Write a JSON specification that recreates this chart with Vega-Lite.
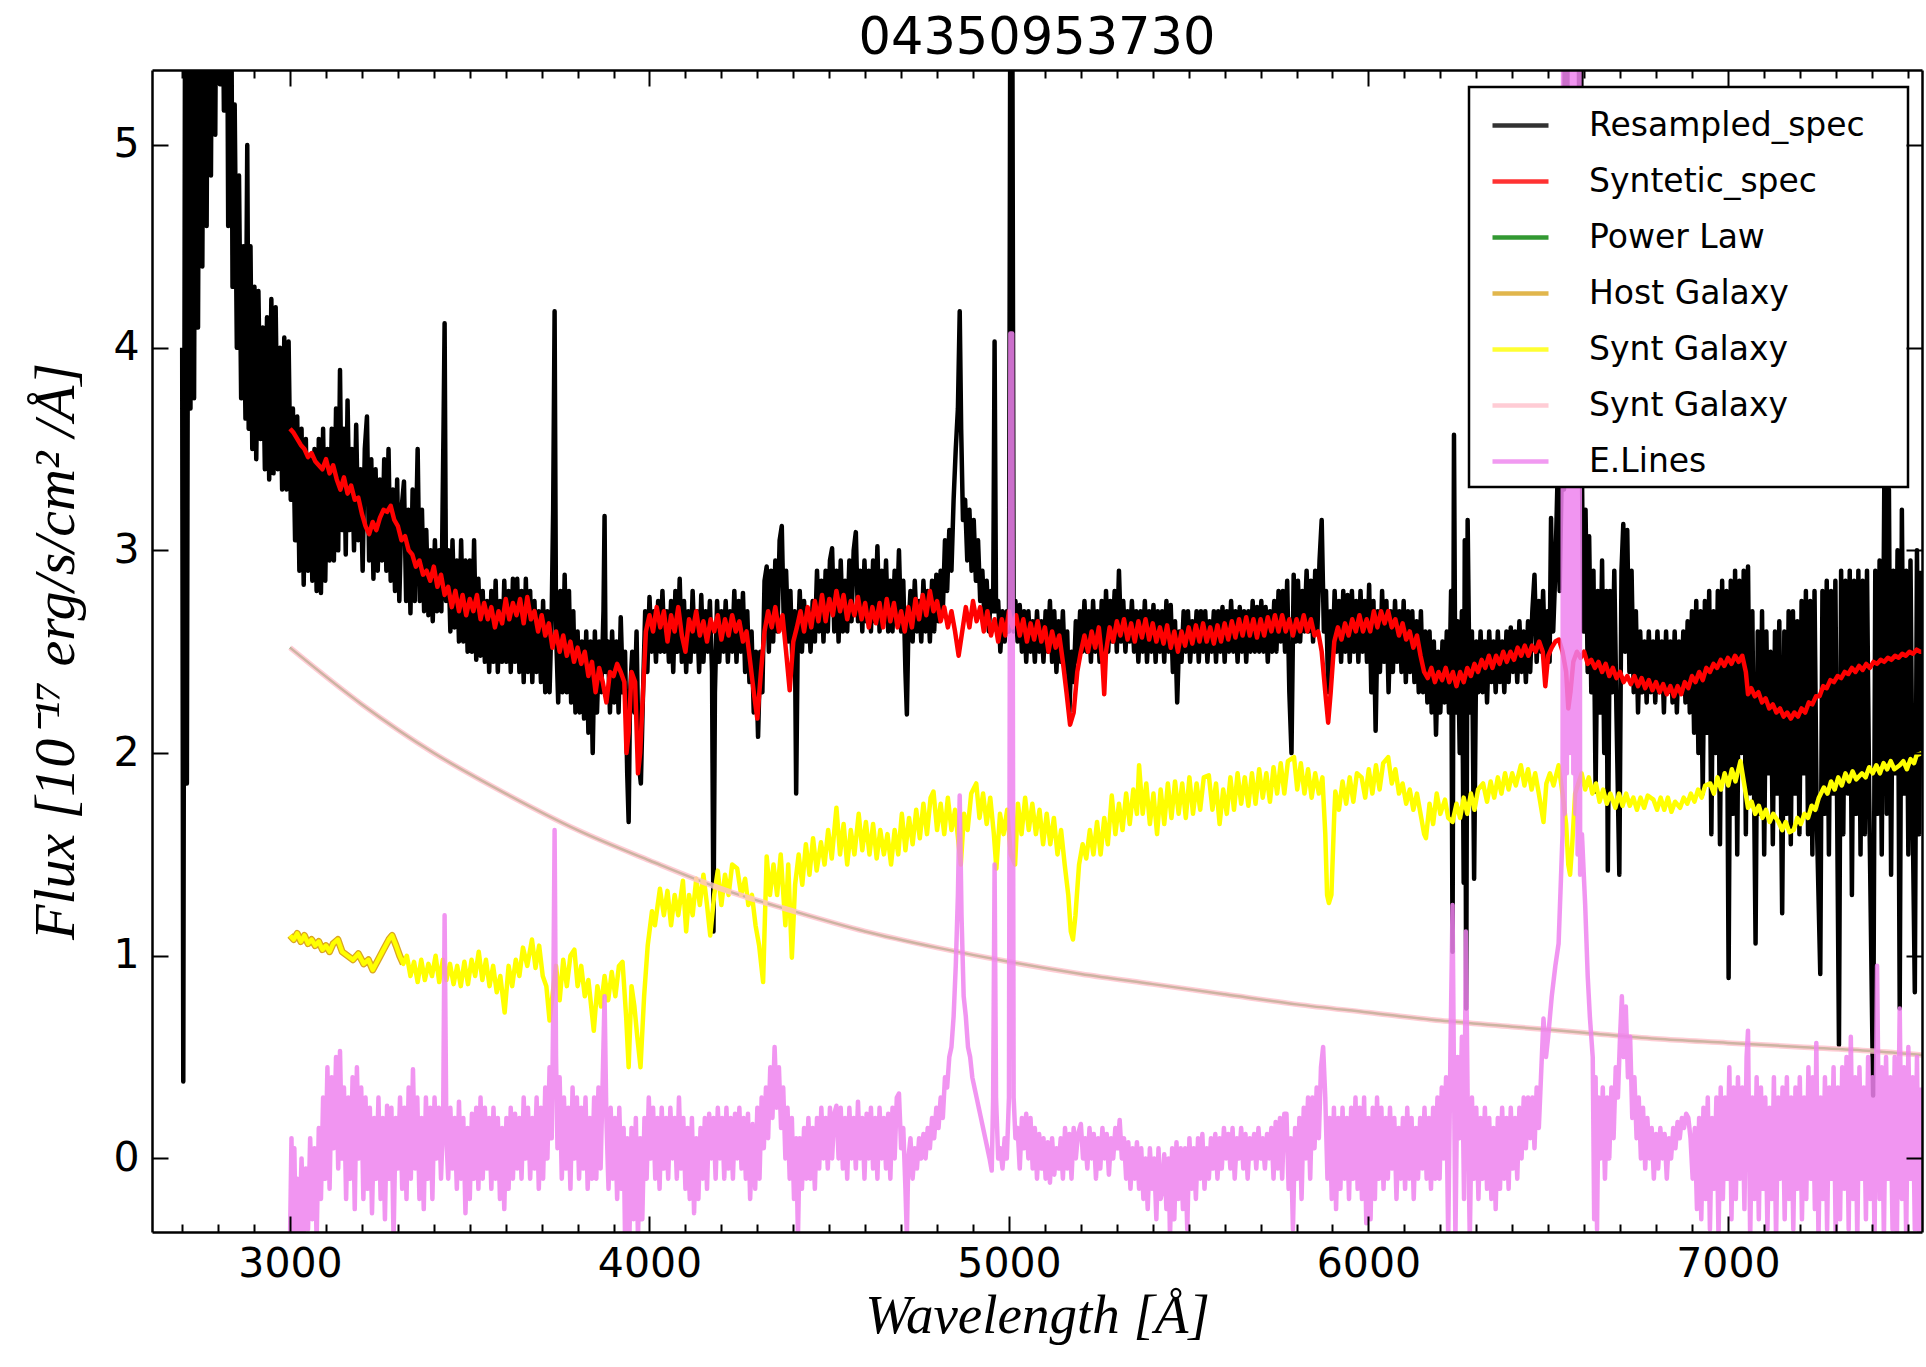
{
"$schema":"https://vega.github.io/schema/vega-lite/v6.json",
"width":1770,"height":1162,
"autosize":{"type":"none"},
"padding":{"left":152,"top":70,"right":4,"bottom":135},
"background":"white",
"title":{"text":"04350953730","font":"DejaVu Sans","fontSize":51,"fontWeight":"normal","color":"black","baseline":"alphabetic","offset":20,"dy":56,"anchor":"middle","frame":"group"},
"config":{"view":{"stroke":null},
"axis":{"grid":false,"tickColor":"black","tickWidth":2,"domainColor":"black","domainWidth":2.5,"labelColor":"black","labelFont":"DejaVu Sans","labelFontSize":41,"titleColor":"black","titleFont":"Liberation Serif","titleFontStyle":"italic","titleFontWeight":"normal","titleFontSize":55},
"legend":{"strokeWidth":2.5}},
"datasets":{
"spec":[{"w":2700,"f":4.0},{"w":2703,"f":0.38},{"w":2708,"f":5.8},{"w":2713,"f":1.85},{"w":2718,"f":6.2},{"w":2723,"f":3.7},{"w":2728,"f":6.5},{"w":2733,"f":3.75},{"w":2738,"f":6.5},{"w":2744,"f":4.1},{"w":2750,"f":6.8},{"w":2756,"f":4.4},{"w":2762,"f":6.8},{"w":2768,"f":4.6},{"w":2774,"f":7.0},{"w":2780,"f":4.85},{"w":2786,"f":7.0},{"w":2792,"f":5.05},{"w":2798,"f":7.0},{"w":2805,"f":5.3},{"w":2811,"f":6.2},{"w":2816,"f":5.17},{"w":2822,"f":7.0},{"w":2828,"f":4.6},{"w":2834,"f":7.0},{"w":2840,"f":4.3},{"w":2846,"f":5.2},{"w":2852,"f":4.0},{"w":2858,"f":4.85},{"w":2864,"f":3.75},{"w":2870,"f":4.5},{"w":2876,"f":3.65},{"w":2881,"f":5.0},{"w":2885,"f":3.6},{"w":2890,"f":4.5},{"w":2895,"f":3.5},{"w":2901,"f":4.3},{"w":2906,"f":3.45},{"w":2912,"f":4.28},{"w":2918,"f":3.55},{"w":2924,"f":4.1},{"w":2930,"f":3.4},{"w":2936,"f":4.15},{"w":2942,"f":3.35},{"w":2948,"f":4.24},{"w":2954,"f":3.38},{"w":2960,"f":4.2},{"w":2966,"f":3.4},{"w":2972,"f":4.0},{"w":2978,"f":3.3},{"w":2984,"f":4.05},{"w":2990,"f":3.3},{"w":2996,"f":4.03},{"w":3002,"f":3.25},{"w":3008,"f":3.7},{"w":3014,"f":3.05},{"w":3020,"f":3.66},{"w":3026,"f":2.9},{"w":3032,"f":3.6},{"w":3038,"f":2.83},{"w":3044,"f":3.55},{"w":3050,"f":2.9},{"w":3056,"f":3.45},{"w":3062,"f":2.85},{"w":3068,"f":3.5},{"w":3074,"f":2.8},{"w":3080,"f":3.55},{"w":3086,"f":2.79},{"w":3092,"f":3.6},{"w":3098,"f":2.85},{"w":3104,"f":3.5},{"w":3110,"f":2.95},{"w":3116,"f":3.6},{"w":3122,"f":2.95},{"w":3128,"f":3.7},{"w":3134,"f":3.0},{"w":3139,"f":3.89},{"w":3144,"f":3.1},{"w":3150,"f":3.6},{"w":3155,"f":2.98},{"w":3160,"f":3.74},{"w":3166,"f":3.1},{"w":3172,"f":3.5},{"w":3178,"f":3.0},{"w":3184,"f":3.62},{"w":3190,"f":3.05},{"w":3196,"f":3.4},{"w":3202,"f":2.9},{"w":3208,"f":3.5},{"w":3214,"f":3.66},{"w":3220,"f":2.95},{"w":3226,"f":3.45},{"w":3232,"f":2.86},{"w":3238,"f":3.4},{"w":3244,"f":2.9},{"w":3250,"f":3.35},{"w":3256,"f":2.95},{"w":3262,"f":3.45},{"w":3268,"f":2.9},{"w":3274,"f":3.5},{"w":3280,"f":2.85},{"w":3286,"f":3.3},{"w":3292,"f":2.8},{"w":3298,"f":3.35},{"w":3304,"f":2.75},{"w":3310,"f":3.2},{"w":3317,"f":3.34},{"w":3323,"f":2.75},{"w":3329,"f":3.2},{"w":3335,"f":2.69},{"w":3341,"f":3.3},{"w":3347,"f":2.75},{"w":3355,"f":3.5},{"w":3361,"f":2.75},{"w":3367,"f":3.2},{"w":3373,"f":2.7},{"w":3379,"f":3.1},{"w":3385,"f":2.68},{"w":3391,"f":3.0},{"w":3397,"f":2.65},{"w":3403,"f":3.05},{"w":3409,"f":2.7},{"w":3415,"f":3.0},{"w":3421,"f":2.7},{"w":3427,"f":3.6},{"w":3430,"f":4.12},{"w":3434,"f":2.75},{"w":3440,"f":3.0},{"w":3446,"f":2.6},{"w":3452,"f":3.05},{"w":3458,"f":2.62},{"w":3464,"f":2.95},{"w":3470,"f":2.55},{"w":3476,"f":3.05},{"w":3482,"f":2.55},{"w":3488,"f":2.95},{"w":3494,"f":2.5},{"w":3500,"f":2.95},{"w":3506,"f":2.5},{"w":3512,"f":3.05},{"w":3518,"f":2.46},{"w":3524,"f":2.86},{"w":3530,"f":2.48},{"w":3536,"f":2.8},{"w":3542,"f":2.45},{"w":3548,"f":2.75},{"w":3554,"f":2.4},{"w":3560,"f":2.8},{"w":3566,"f":2.45},{"w":3572,"f":2.85},{"w":3578,"f":2.4},{"w":3584,"f":2.75},{"w":3590,"f":2.45},{"w":3596,"f":2.85},{"w":3602,"f":2.45},{"w":3608,"f":2.8},{"w":3614,"f":2.4},{"w":3620,"f":2.86},{"w":3626,"f":2.45},{"w":3632,"f":2.86},{"w":3638,"f":2.4},{"w":3644,"f":2.8},{"w":3650,"f":2.35},{"w":3656,"f":2.86},{"w":3662,"f":2.4},{"w":3668,"f":2.8},{"w":3674,"f":2.35},{"w":3680,"f":2.75},{"w":3686,"f":2.4},{"w":3692,"f":2.7},{"w":3698,"f":2.35},{"w":3704,"f":2.75},{"w":3710,"f":2.3},{"w":3716,"f":2.7},{"w":3722,"f":2.3},{"w":3728,"f":2.7},{"w":3732,"f":3.2},{"w":3736,"f":4.18},{"w":3740,"f":2.6},{"w":3746,"f":2.25},{"w":3752,"f":2.8},{"w":3758,"f":2.3},{"w":3764,"f":2.88},{"w":3770,"f":2.3},{"w":3776,"f":2.8},{"w":3782,"f":2.25},{"w":3788,"f":2.7},{"w":3794,"f":2.2},{"w":3800,"f":2.6},{"w":3806,"f":2.2},{"w":3812,"f":2.55},{"w":3818,"f":2.17},{"w":3824,"f":2.6},{"w":3830,"f":2.1},{"w":3836,"f":2.55},{"w":3842,"f":2.0},{"w":3848,"f":2.6},{"w":3854,"f":2.2},{"w":3860,"f":2.55},{"w":3866,"f":2.3},{"w":3872,"f":2.7},{"w":3875,"f":3.17},{"w":3878,"f":2.4},{"w":3884,"f":2.55},{"w":3890,"f":2.2},{"w":3896,"f":2.6},{"w":3902,"f":2.25},{"w":3908,"f":2.55},{"w":3914,"f":2.2},{"w":3920,"f":2.67},{"w":3926,"f":2.3},{"w":3932,"f":2.5},{"w":3938,"f":1.9},{"w":3942,"f":1.66},{"w":3946,"f":2.3},{"w":3952,"f":2.5},{"w":3958,"f":2.2},{"w":3964,"f":2.6},{"w":3970,"f":1.95},{"w":3976,"f":1.85},{"w":3982,"f":2.3},{"w":3988,"f":2.7},{"w":3994,"f":2.4},{"w":4000,"f":2.77},{"w":4006,"f":2.5},{"w":4012,"f":2.7},{"w":4018,"f":2.45},{"w":4024,"f":2.75},{"w":4030,"f":2.5},{"w":4036,"f":2.8},{"w":4042,"f":2.5},{"w":4048,"f":2.7},{"w":4054,"f":2.45},{"w":4060,"f":2.75},{"w":4066,"f":2.4},{"w":4072,"f":2.8},{"w":4078,"f":2.5},{"w":4084,"f":2.86},{"w":4090,"f":2.45},{"w":4096,"f":2.75},{"w":4102,"f":2.4},{"w":4108,"f":2.7},{"w":4114,"f":2.45},{"w":4120,"f":2.8},{"w":4126,"f":2.5},{"w":4132,"f":2.7},{"w":4138,"f":2.4},{"w":4144,"f":2.78},{"w":4150,"f":2.45},{"w":4156,"f":2.7},{"w":4162,"f":2.5},{"w":4168,"f":2.75},{"w":4174,"f":2.4},{"w":4178,"f":1.12},{"w":4182,"f":2.3},{"w":4188,"f":2.75},{"w":4194,"f":2.45},{"w":4200,"f":2.7},{"w":4206,"f":2.5},{"w":4212,"f":2.75},{"w":4218,"f":2.45},{"w":4224,"f":2.7},{"w":4230,"f":2.5},{"w":4236,"f":2.8},{"w":4242,"f":2.45},{"w":4248,"f":2.75},{"w":4254,"f":2.5},{"w":4260,"f":2.79},{"w":4266,"f":2.4},{"w":4272,"f":2.7},{"w":4278,"f":2.35},{"w":4284,"f":2.6},{"w":4290,"f":2.2},{"w":4296,"f":2.5},{"w":4302,"f":2.08},{"w":4308,"f":2.5},{"w":4314,"f":2.3},{"w":4320,"f":2.85},{"w":4326,"f":2.92},{"w":4332,"f":2.5},{"w":4338,"f":2.9},{"w":4344,"f":2.55},{"w":4350,"f":2.95},{"w":4356,"f":2.6},{"w":4362,"f":3.05},{"w":4368,"f":3.12},{"w":4374,"f":2.6},{"w":4380,"f":2.9},{"w":4386,"f":2.55},{"w":4392,"f":2.8},{"w":4398,"f":2.4},{"w":4404,"f":2.7},{"w":4408,"f":1.8},{"w":4412,"f":2.5},{"w":4418,"f":2.8},{"w":4424,"f":2.5},{"w":4430,"f":2.75},{"w":4436,"f":2.55},{"w":4442,"f":2.7},{"w":4448,"f":2.5},{"w":4454,"f":2.75},{"w":4460,"f":2.55},{"w":4466,"f":2.9},{"w":4472,"f":2.6},{"w":4478,"f":2.85},{"w":4484,"f":2.55},{"w":4490,"f":2.9},{"w":4496,"f":2.6},{"w":4502,"f":2.95},{"w":4508,"f":3.01},{"w":4514,"f":2.6},{"w":4520,"f":2.9},{"w":4526,"f":2.55},{"w":4532,"f":2.95},{"w":4538,"f":2.6},{"w":4544,"f":2.85},{"w":4550,"f":2.6},{"w":4556,"f":2.95},{"w":4562,"f":2.65},{"w":4568,"f":3.0},{"w":4574,"f":3.09},{"w":4580,"f":2.65},{"w":4586,"f":2.9},{"w":4592,"f":2.6},{"w":4598,"f":2.95},{"w":4604,"f":2.65},{"w":4610,"f":2.9},{"w":4616,"f":2.6},{"w":4622,"f":2.95},{"w":4628,"f":2.65},{"w":4634,"f":3.02},{"w":4640,"f":2.6},{"w":4646,"f":2.9},{"w":4652,"f":2.65},{"w":4658,"f":2.95},{"w":4664,"f":2.6},{"w":4670,"f":2.85},{"w":4676,"f":2.6},{"w":4682,"f":2.9},{"w":4688,"f":2.65},{"w":4694,"f":3.0},{"w":4700,"f":2.6},{"w":4706,"f":2.85},{"w":4712,"f":2.4},{"w":4716,"f":2.19},{"w":4720,"f":2.6},{"w":4726,"f":2.8},{"w":4732,"f":2.55},{"w":4738,"f":2.85},{"w":4744,"f":2.6},{"w":4750,"f":2.75},{"w":4756,"f":2.55},{"w":4762,"f":2.85},{"w":4768,"f":2.6},{"w":4774,"f":2.8},{"w":4780,"f":2.55},{"w":4786,"f":2.85},{"w":4792,"f":2.6},{"w":4798,"f":2.88},{"w":4804,"f":2.65},{"w":4810,"f":2.9},{"w":4816,"f":2.7},{"w":4822,"f":3.05},{"w":4828,"f":2.8},{"w":4834,"f":3.1},{"w":4840,"f":2.9},{"w":4846,"f":3.25},{"w":4852,"f":3.5},{"w":4858,"f":3.7},{"w":4863,"f":4.18},{"w":4867,"f":3.6},{"w":4872,"f":3.15},{"w":4878,"f":3.25},{"w":4884,"f":2.95},{"w":4890,"f":3.2},{"w":4896,"f":2.9},{"w":4902,"f":3.15},{"w":4908,"f":2.85},{"w":4914,"f":3.05},{"w":4920,"f":2.75},{"w":4926,"f":2.9},{"w":4932,"f":2.65},{"w":4938,"f":2.85},{"w":4944,"f":2.6},{"w":4950,"f":2.8},{"w":4956,"f":2.7},{"w":4960,"f":4.03},{"w":4964,"f":2.7},{"w":4970,"f":2.75},{"w":4976,"f":2.5},{"w":4982,"f":2.7},{"w":4988,"f":2.55},{"w":4994,"f":2.7},{"w":5000,"f":2.6},{"w":5004,"f":6.0},{"w":5009,"f":6.0},{"w":5013,"f":2.6},{"w":5018,"f":2.75},{"w":5024,"f":2.55},{"w":5030,"f":2.73},{"w":5036,"f":2.5},{"w":5042,"f":2.7},{"w":5048,"f":2.45},{"w":5054,"f":2.7},{"w":5060,"f":2.5},{"w":5066,"f":2.65},{"w":5072,"f":2.45},{"w":5078,"f":2.7},{"w":5084,"f":2.5},{"w":5090,"f":2.65},{"w":5096,"f":2.45},{"w":5102,"f":2.7},{"w":5108,"f":2.5},{"w":5114,"f":2.75},{"w":5120,"f":2.45},{"w":5126,"f":2.7},{"w":5132,"f":2.4},{"w":5138,"f":2.65},{"w":5144,"f":2.45},{"w":5150,"f":2.7},{"w":5156,"f":2.4},{"w":5162,"f":2.6},{"w":5168,"f":2.2},{"w":5174,"f":2.5},{"w":5180,"f":2.35},{"w":5186,"f":2.65},{"w":5192,"f":2.45},{"w":5198,"f":2.7},{"w":5204,"f":2.5},{"w":5210,"f":2.75},{"w":5216,"f":2.5},{"w":5222,"f":2.7},{"w":5228,"f":2.45},{"w":5234,"f":2.75},{"w":5240,"f":2.5},{"w":5246,"f":2.7},{"w":5252,"f":2.45},{"w":5258,"f":2.75},{"w":5264,"f":2.4},{"w":5270,"f":2.8},{"w":5276,"f":2.5},{"w":5282,"f":2.75},{"w":5288,"f":2.55},{"w":5294,"f":2.8},{"w":5300,"f":2.5},{"w":5306,"f":2.9},{"w":5312,"f":2.55},{"w":5318,"f":2.75},{"w":5324,"f":2.5},{"w":5330,"f":2.7},{"w":5336,"f":2.55},{"w":5342,"f":2.75},{"w":5348,"f":2.5},{"w":5354,"f":2.7},{"w":5360,"f":2.45},{"w":5366,"f":2.7},{"w":5372,"f":2.5},{"w":5378,"f":2.75},{"w":5384,"f":2.45},{"w":5390,"f":2.7},{"w":5396,"f":2.5},{"w":5402,"f":2.73},{"w":5408,"f":2.45},{"w":5414,"f":2.7},{"w":5420,"f":2.5},{"w":5426,"f":2.7},{"w":5432,"f":2.45},{"w":5438,"f":2.75},{"w":5444,"f":2.5},{"w":5450,"f":2.73},{"w":5456,"f":2.4},{"w":5462,"f":2.65},{"w":5468,"f":2.25},{"w":5474,"f":2.6},{"w":5480,"f":2.45},{"w":5486,"f":2.7},{"w":5492,"f":2.5},{"w":5498,"f":2.7},{"w":5504,"f":2.45},{"w":5510,"f":2.65},{"w":5516,"f":2.5},{"w":5522,"f":2.7},{"w":5528,"f":2.45},{"w":5534,"f":2.7},{"w":5540,"f":2.5},{"w":5546,"f":2.7},{"w":5552,"f":2.45},{"w":5558,"f":2.65},{"w":5564,"f":2.5},{"w":5570,"f":2.7},{"w":5576,"f":2.45},{"w":5582,"f":2.7},{"w":5588,"f":2.5},{"w":5594,"f":2.72},{"w":5600,"f":2.45},{"w":5606,"f":2.7},{"w":5612,"f":2.5},{"w":5618,"f":2.75},{"w":5624,"f":2.5},{"w":5630,"f":2.7},{"w":5636,"f":2.45},{"w":5642,"f":2.72},{"w":5648,"f":2.5},{"w":5654,"f":2.7},{"w":5660,"f":2.45},{"w":5666,"f":2.7},{"w":5672,"f":2.5},{"w":5678,"f":2.75},{"w":5684,"f":2.5},{"w":5690,"f":2.72},{"w":5696,"f":2.5},{"w":5702,"f":2.75},{"w":5708,"f":2.5},{"w":5714,"f":2.72},{"w":5720,"f":2.45},{"w":5726,"f":2.7},{"w":5732,"f":2.5},{"w":5738,"f":2.75},{"w":5744,"f":2.5},{"w":5750,"f":2.8},{"w":5756,"f":2.55},{"w":5762,"f":2.8},{"w":5768,"f":2.5},{"w":5774,"f":2.85},{"w":5780,"f":2.3},{"w":5786,"f":2.0},{"w":5792,"f":2.88},{"w":5798,"f":2.55},{"w":5804,"f":2.85},{"w":5810,"f":2.55},{"w":5816,"f":2.8},{"w":5822,"f":2.6},{"w":5828,"f":2.9},{"w":5834,"f":2.6},{"w":5840,"f":2.85},{"w":5846,"f":2.55},{"w":5852,"f":2.9},{"w":5858,"f":2.6},{"w":5864,"f":2.95},{"w":5870,"f":3.15},{"w":5876,"f":2.6},{"w":5882,"f":2.8},{"w":5888,"f":2.3},{"w":5894,"f":2.7},{"w":5900,"f":2.45},{"w":5906,"f":2.8},{"w":5912,"f":2.5},{"w":5918,"f":2.75},{"w":5924,"f":2.45},{"w":5930,"f":2.8},{"w":5936,"f":2.5},{"w":5942,"f":2.78},{"w":5948,"f":2.45},{"w":5954,"f":2.8},{"w":5960,"f":2.5},{"w":5966,"f":2.75},{"w":5972,"f":2.45},{"w":5978,"f":2.8},{"w":5984,"f":2.5},{"w":5990,"f":2.75},{"w":5996,"f":2.45},{"w":6002,"f":2.83},{"w":6008,"f":2.3},{"w":6014,"f":2.75},{"w":6020,"f":2.11},{"w":6026,"f":2.7},{"w":6032,"f":2.4},{"w":6038,"f":2.8},{"w":6044,"f":2.45},{"w":6050,"f":2.75},{"w":6056,"f":2.3},{"w":6062,"f":2.7},{"w":6068,"f":2.4},{"w":6074,"f":2.75},{"w":6080,"f":2.45},{"w":6086,"f":2.7},{"w":6092,"f":2.4},{"w":6098,"f":2.75},{"w":6104,"f":2.35},{"w":6110,"f":2.7},{"w":6116,"f":2.4},{"w":6122,"f":2.7},{"w":6128,"f":2.35},{"w":6134,"f":2.65},{"w":6140,"f":2.3},{"w":6146,"f":2.7},{"w":6152,"f":2.3},{"w":6158,"f":2.6},{"w":6164,"f":2.25},{"w":6170,"f":2.6},{"w":6176,"f":2.2},{"w":6182,"f":2.55},{"w":6188,"f":2.09},{"w":6194,"f":2.5},{"w":6200,"f":2.2},{"w":6206,"f":2.55},{"w":6212,"f":2.25},{"w":6218,"f":2.6},{"w":6224,"f":2.2},{"w":6230,"f":2.8},{"w":6234,"f":1.02},{"w":6238,"f":3.57},{"w":6242,"f":2.2},{"w":6248,"f":2.65},{"w":6254,"f":2.0},{"w":6260,"f":2.7},{"w":6265,"f":1.36},{"w":6268,"f":3.05},{"w":6272,"f":0.74},{"w":6276,"f":3.15},{"w":6282,"f":2.2},{"w":6288,"f":2.6},{"w":6294,"f":1.38},{"w":6300,"f":2.55},{"w":6306,"f":2.3},{"w":6312,"f":2.6},{"w":6318,"f":2.3},{"w":6324,"f":2.55},{"w":6330,"f":2.25},{"w":6336,"f":2.6},{"w":6342,"f":2.35},{"w":6348,"f":2.55},{"w":6354,"f":2.3},{"w":6360,"f":2.6},{"w":6366,"f":2.35},{"w":6372,"f":2.55},{"w":6378,"f":2.3},{"w":6384,"f":2.6},{"w":6390,"f":2.35},{"w":6396,"f":2.62},{"w":6402,"f":2.4},{"w":6408,"f":2.6},{"w":6414,"f":2.35},{"w":6420,"f":2.65},{"w":6426,"f":2.4},{"w":6432,"f":2.6},{"w":6438,"f":2.35},{"w":6444,"f":2.65},{"w":6450,"f":2.4},{"w":6456,"f":2.7},{"w":6462,"f":2.88},{"w":6468,"f":2.45},{"w":6474,"f":2.75},{"w":6480,"f":2.5},{"w":6486,"f":2.8},{"w":6492,"f":2.4},{"w":6498,"f":2.7},{"w":6504,"f":2.45},{"w":6508,"f":3.16},{"w":6514,"f":2.6},{"w":6520,"f":2.9},{"w":6526,"f":3.35},{"w":6532,"f":2.8},{"w":6538,"f":3.4},{"w":6544,"f":3.3},{"w":6548,"f":8.0},{"w":6552,"f":3.6},{"w":6556,"f":8.0},{"w":6584,"f":8.0},{"w":6587,"f":3.5},{"w":6590,"f":8.0},{"w":6594,"f":3.4},{"w":6598,"f":2.6},{"w":6604,"f":3.2},{"w":6610,"f":2.4},{"w":6614,"f":3.07},{"w":6620,"f":2.3},{"w":6626,"f":2.9},{"w":6632,"f":1.81},{"w":6638,"f":2.8},{"w":6644,"f":2.2},{"w":6650,"f":2.95},{"w":6656,"f":2.0},{"w":6662,"f":2.8},{"w":6666,"f":1.42},{"w":6672,"f":2.8},{"w":6678,"f":2.3},{"w":6684,"f":2.9},{"w":6690,"f":2.2},{"w":6698,"f":1.4},{"w":6704,"f":2.9},{"w":6709,"f":3.13},{"w":6714,"f":2.5},{"w":6720,"f":3.1},{"w":6726,"f":2.4},{"w":6732,"f":2.9},{"w":6738,"f":2.3},{"w":6744,"f":2.7},{"w":6750,"f":2.2},{"w":6756,"f":2.6},{"w":6762,"f":2.3},{"w":6768,"f":2.55},{"w":6774,"f":2.25},{"w":6780,"f":2.6},{"w":6786,"f":2.3},{"w":6792,"f":2.55},{"w":6798,"f":2.25},{"w":6804,"f":2.6},{"w":6810,"f":2.3},{"w":6816,"f":2.55},{"w":6822,"f":2.2},{"w":6828,"f":2.6},{"w":6834,"f":2.3},{"w":6840,"f":2.55},{"w":6846,"f":2.25},{"w":6852,"f":2.6},{"w":6858,"f":2.2},{"w":6864,"f":2.55},{"w":6870,"f":2.3},{"w":6876,"f":2.6},{"w":6882,"f":2.25},{"w":6888,"f":2.65},{"w":6894,"f":2.2},{"w":6900,"f":2.7},{"w":6906,"f":2.1},{"w":6912,"f":2.75},{"w":6918,"f":2.0},{"w":6924,"f":2.7},{"w":6930,"f":1.8},{"w":6936,"f":2.75},{"w":6942,"f":2.1},{"w":6948,"f":2.8},{"w":6954,"f":1.6},{"w":6960,"f":2.7},{"w":6966,"f":2.0},{"w":6972,"f":2.8},{"w":6978,"f":1.55},{"w":6984,"f":2.85},{"w":6990,"f":1.9},{"w":6996,"f":2.8},{"w":7002,"f":0.89},{"w":7008,"f":2.85},{"w":7014,"f":1.7},{"w":7020,"f":2.9},{"w":7026,"f":1.5},{"w":7032,"f":2.85},{"w":7038,"f":2.0},{"w":7044,"f":2.9},{"w":7050,"f":1.6},{"w":7056,"f":2.92},{"w":7062,"f":1.8},{"w":7068,"f":2.7},{"w":7077,"f":1.06},{"w":7083,"f":2.6},{"w":7089,"f":1.7},{"w":7095,"f":2.7},{"w":7101,"f":1.5},{"w":7107,"f":2.6},{"w":7113,"f":1.9},{"w":7119,"f":2.5},{"w":7125,"f":1.55},{"w":7131,"f":2.6},{"w":7137,"f":1.8},{"w":7143,"f":2.65},{"w":7151,"f":1.21},{"w":7157,"f":2.6},{"w":7163,"f":1.7},{"w":7169,"f":2.7},{"w":7175,"f":1.55},{"w":7181,"f":2.7},{"w":7187,"f":1.8},{"w":7193,"f":2.65},{"w":7199,"f":1.6},{"w":7205,"f":2.75},{"w":7211,"f":1.9},{"w":7217,"f":2.8},{"w":7223,"f":1.6},{"w":7229,"f":2.75},{"w":7235,"f":1.5},{"w":7241,"f":2.8},{"w":7247,"f":1.7},{"w":7257,"f":0.91},{"w":7263,"f":2.8},{"w":7269,"f":1.7},{"w":7275,"f":2.85},{"w":7281,"f":1.5},{"w":7287,"f":2.8},{"w":7293,"f":1.8},{"w":7299,"f":2.85},{"w":7309,"f":0.56},{"w":7315,"f":2.9},{"w":7321,"f":1.6},{"w":7327,"f":2.85},{"w":7333,"f":1.8},{"w":7339,"f":2.9},{"w":7345,"f":1.3},{"w":7351,"f":2.85},{"w":7357,"f":1.7},{"w":7363,"f":2.9},{"w":7369,"f":1.5},{"w":7375,"f":2.85},{"w":7381,"f":1.6},{"w":7387,"f":2.9},{"w":7393,"f":1.8},{"w":7404,"f":0.31},{"w":7410,"f":2.9},{"w":7416,"f":1.7},{"w":7422,"f":2.95},{"w":7428,"f":1.5},{"w":7436,"f":3.55},{"w":7442,"f":1.7},{"w":7448,"f":3.3},{"w":7454,"f":1.4},{"w":7460,"f":2.9},{"w":7466,"f":1.9},{"w":7472,"f":3.0},{"w":7478,"f":0.74},{"w":7484,"f":3.2},{"w":7490,"f":1.8},{"w":7496,"f":2.9},{"w":7502,"f":1.5},{"w":7508,"f":2.95},{"w":7514,"f":1.7},{"w":7520,"f":0.82},{"w":7526,"f":3.0},{"w":7532,"f":1.6},{"w":7538,"f":2.9}],
"synt":[{"w":3000,"f":3.6},{"w":3010,"f":3.58},{"w":3020,"f":3.55},{"w":3030,"f":3.52},{"w":3040,"f":3.5},{"w":3050,"f":3.46},{"w":3060,"f":3.48},{"w":3070,"f":3.44},{"w":3080,"f":3.42},{"w":3090,"f":3.4},{"w":3100,"f":3.45},{"w":3110,"f":3.38},{"w":3120,"f":3.42},{"w":3130,"f":3.35},{"w":3140,"f":3.3},{"w":3150,"f":3.36},{"w":3160,"f":3.28},{"w":3170,"f":3.32},{"w":3180,"f":3.25},{"w":3190,"f":3.26},{"w":3200,"f":3.18},{"w":3210,"f":3.12},{"w":3220,"f":3.08},{"w":3230,"f":3.14},{"w":3240,"f":3.1},{"w":3250,"f":3.16},{"w":3260,"f":3.2},{"w":3270,"f":3.19},{"w":3280,"f":3.22},{"w":3290,"f":3.15},{"w":3300,"f":3.12},{"w":3310,"f":3.05},{"w":3320,"f":3.07},{"w":3330,"f":3.0},{"w":3340,"f":2.98},{"w":3350,"f":2.92},{"w":3360,"f":2.95},{"w":3370,"f":2.88},{"w":3380,"f":2.9},{"w":3390,"f":2.85},{"w":3400,"f":2.92},{"w":3410,"f":2.82},{"w":3420,"f":2.88},{"w":3430,"f":2.78},{"w":3440,"f":2.82},{"w":3450,"f":2.72},{"w":3460,"f":2.8},{"w":3470,"f":2.7},{"w":3480,"f":2.78},{"w":3490,"f":2.68},{"w":3500,"f":2.76},{"w":3510,"f":2.7},{"w":3520,"f":2.78},{"w":3530,"f":2.66},{"w":3540,"f":2.74},{"w":3550,"f":2.66},{"w":3560,"f":2.72},{"w":3570,"f":2.62},{"w":3580,"f":2.7},{"w":3590,"f":2.64},{"w":3600,"f":2.76},{"w":3610,"f":2.66},{"w":3620,"f":2.74},{"w":3630,"f":2.68},{"w":3640,"f":2.76},{"w":3650,"f":2.64},{"w":3660,"f":2.77},{"w":3670,"f":2.66},{"w":3680,"f":2.7},{"w":3690,"f":2.6},{"w":3700,"f":2.68},{"w":3710,"f":2.58},{"w":3720,"f":2.64},{"w":3730,"f":2.52},{"w":3740,"f":2.6},{"w":3750,"f":2.5},{"w":3760,"f":2.58},{"w":3770,"f":2.48},{"w":3780,"f":2.55},{"w":3790,"f":2.45},{"w":3800,"f":2.52},{"w":3810,"f":2.44},{"w":3820,"f":2.5},{"w":3830,"f":2.38},{"w":3840,"f":2.45},{"w":3850,"f":2.3},{"w":3860,"f":2.42},{"w":3870,"f":2.35},{"w":3880,"f":2.25},{"w":3890,"f":2.4},{"w":3900,"f":2.38},{"w":3910,"f":2.44},{"w":3920,"f":2.4},{"w":3930,"f":2.35},{"w":3936,"f":2.0},{"w":3942,"f":2.1},{"w":3950,"f":2.4},{"w":3960,"f":2.35},{"w":3968,"f":1.9},{"w":3974,"f":2.0},{"w":3982,"f":2.3},{"w":3990,"f":2.6},{"w":4000,"f":2.68},{"w":4010,"f":2.6},{"w":4020,"f":2.72},{"w":4030,"f":2.62},{"w":4040,"f":2.7},{"w":4050,"f":2.55},{"w":4060,"f":2.68},{"w":4070,"f":2.6},{"w":4080,"f":2.72},{"w":4090,"f":2.58},{"w":4100,"f":2.5},{"w":4110,"f":2.66},{"w":4120,"f":2.6},{"w":4130,"f":2.7},{"w":4140,"f":2.58},{"w":4150,"f":2.65},{"w":4160,"f":2.55},{"w":4170,"f":2.66},{"w":4180,"f":2.6},{"w":4190,"f":2.68},{"w":4200,"f":2.56},{"w":4210,"f":2.66},{"w":4220,"f":2.58},{"w":4230,"f":2.68},{"w":4240,"f":2.6},{"w":4250,"f":2.65},{"w":4260,"f":2.55},{"w":4270,"f":2.6},{"w":4280,"f":2.45},{"w":4290,"f":2.3},{"w":4300,"f":2.17},{"w":4310,"f":2.4},{"w":4320,"f":2.6},{"w":4330,"f":2.7},{"w":4340,"f":2.62},{"w":4350,"f":2.72},{"w":4360,"f":2.6},{"w":4370,"f":2.68},{"w":4380,"f":2.5},{"w":4390,"f":2.31},{"w":4400,"f":2.55},{"w":4410,"f":2.62},{"w":4420,"f":2.7},{"w":4430,"f":2.6},{"w":4440,"f":2.72},{"w":4450,"f":2.62},{"w":4460,"f":2.75},{"w":4470,"f":2.65},{"w":4480,"f":2.78},{"w":4490,"f":2.65},{"w":4500,"f":2.76},{"w":4510,"f":2.68},{"w":4520,"f":2.8},{"w":4530,"f":2.7},{"w":4540,"f":2.78},{"w":4550,"f":2.66},{"w":4560,"f":2.75},{"w":4570,"f":2.68},{"w":4580,"f":2.77},{"w":4590,"f":2.66},{"w":4600,"f":2.74},{"w":4610,"f":2.62},{"w":4620,"f":2.72},{"w":4630,"f":2.64},{"w":4640,"f":2.74},{"w":4650,"f":2.62},{"w":4660,"f":2.76},{"w":4670,"f":2.65},{"w":4680,"f":2.74},{"w":4690,"f":2.62},{"w":4700,"f":2.7},{"w":4710,"f":2.6},{"w":4720,"f":2.72},{"w":4730,"f":2.62},{"w":4740,"f":2.76},{"w":4750,"f":2.66},{"w":4760,"f":2.78},{"w":4770,"f":2.68},{"w":4780,"f":2.8},{"w":4790,"f":2.7},{"w":4800,"f":2.75},{"w":4810,"f":2.65},{"w":4820,"f":2.72},{"w":4830,"f":2.62},{"w":4840,"f":2.7},{"w":4850,"f":2.6},{"w":4860,"f":2.48},{"w":4870,"f":2.6},{"w":4880,"f":2.72},{"w":4890,"f":2.62},{"w":4900,"f":2.75},{"w":4910,"f":2.65},{"w":4920,"f":2.72},{"w":4930,"f":2.6},{"w":4940,"f":2.7},{"w":4950,"f":2.58},{"w":4960,"f":2.66},{"w":4970,"f":2.55},{"w":4980,"f":2.66},{"w":4990,"f":2.58},{"w":5000,"f":2.7},{"w":5010,"f":2.62},{"w":5020,"f":2.68},{"w":5030,"f":2.58},{"w":5040,"f":2.66},{"w":5050,"f":2.55},{"w":5060,"f":2.64},{"w":5070,"f":2.56},{"w":5080,"f":2.65},{"w":5090,"f":2.55},{"w":5100,"f":2.62},{"w":5110,"f":2.5},{"w":5120,"f":2.6},{"w":5130,"f":2.52},{"w":5140,"f":2.58},{"w":5150,"f":2.45},{"w":5160,"f":2.3},{"w":5170,"f":2.14},{"w":5180,"f":2.2},{"w":5190,"f":2.4},{"w":5200,"f":2.5},{"w":5210,"f":2.58},{"w":5220,"f":2.5},{"w":5230,"f":2.6},{"w":5240,"f":2.52},{"w":5250,"f":2.62},{"w":5260,"f":2.45},{"w":5265,"f":2.29},{"w":5270,"f":2.5},{"w":5280,"f":2.62},{"w":5290,"f":2.55},{"w":5300,"f":2.65},{"w":5310,"f":2.58},{"w":5320,"f":2.66},{"w":5330,"f":2.56},{"w":5340,"f":2.64},{"w":5350,"f":2.55},{"w":5360,"f":2.65},{"w":5370,"f":2.57},{"w":5380,"f":2.66},{"w":5390,"f":2.56},{"w":5400,"f":2.64},{"w":5410,"f":2.55},{"w":5420,"f":2.62},{"w":5430,"f":2.54},{"w":5440,"f":2.63},{"w":5450,"f":2.52},{"w":5460,"f":2.6},{"w":5470,"f":2.5},{"w":5480,"f":2.6},{"w":5490,"f":2.53},{"w":5500,"f":2.62},{"w":5510,"f":2.54},{"w":5520,"f":2.63},{"w":5530,"f":2.55},{"w":5540,"f":2.64},{"w":5550,"f":2.55},{"w":5560,"f":2.62},{"w":5570,"f":2.54},{"w":5580,"f":2.63},{"w":5590,"f":2.55},{"w":5600,"f":2.64},{"w":5610,"f":2.56},{"w":5620,"f":2.65},{"w":5630,"f":2.57},{"w":5640,"f":2.66},{"w":5650,"f":2.58},{"w":5660,"f":2.67},{"w":5670,"f":2.58},{"w":5680,"f":2.66},{"w":5690,"f":2.57},{"w":5700,"f":2.66},{"w":5710,"f":2.58},{"w":5720,"f":2.67},{"w":5730,"f":2.6},{"w":5740,"f":2.68},{"w":5750,"f":2.6},{"w":5760,"f":2.68},{"w":5770,"f":2.6},{"w":5780,"f":2.66},{"w":5790,"f":2.58},{"w":5800,"f":2.66},{"w":5810,"f":2.6},{"w":5820,"f":2.68},{"w":5830,"f":2.6},{"w":5840,"f":2.66},{"w":5850,"f":2.58},{"w":5860,"f":2.6},{"w":5870,"f":2.5},{"w":5880,"f":2.3},{"w":5888,"f":2.15},{"w":5895,"f":2.3},{"w":5905,"f":2.55},{"w":5915,"f":2.62},{"w":5925,"f":2.56},{"w":5935,"f":2.64},{"w":5945,"f":2.58},{"w":5955,"f":2.66},{"w":5965,"f":2.6},{"w":5975,"f":2.68},{"w":5985,"f":2.6},{"w":5995,"f":2.66},{"w":6005,"f":2.6},{"w":6015,"f":2.7},{"w":6025,"f":2.62},{"w":6035,"f":2.7},{"w":6045,"f":2.64},{"w":6055,"f":2.7},{"w":6065,"f":2.62},{"w":6075,"f":2.66},{"w":6085,"f":2.58},{"w":6095,"f":2.64},{"w":6105,"f":2.56},{"w":6115,"f":2.6},{"w":6125,"f":2.52},{"w":6135,"f":2.58},{"w":6145,"f":2.48},{"w":6155,"f":2.4},{"w":6165,"f":2.37},{"w":6175,"f":2.42},{"w":6185,"f":2.35},{"w":6195,"f":2.4},{"w":6205,"f":2.36},{"w":6215,"f":2.42},{"w":6225,"f":2.35},{"w":6235,"f":2.4},{"w":6245,"f":2.33},{"w":6255,"f":2.4},{"w":6265,"f":2.35},{"w":6275,"f":2.42},{"w":6285,"f":2.38},{"w":6295,"f":2.44},{"w":6305,"f":2.4},{"w":6315,"f":2.46},{"w":6325,"f":2.42},{"w":6335,"f":2.48},{"w":6345,"f":2.42},{"w":6355,"f":2.48},{"w":6365,"f":2.44},{"w":6375,"f":2.5},{"w":6385,"f":2.45},{"w":6395,"f":2.5},{"w":6405,"f":2.46},{"w":6415,"f":2.52},{"w":6425,"f":2.48},{"w":6435,"f":2.53},{"w":6445,"f":2.48},{"w":6455,"f":2.53},{"w":6465,"f":2.5},{"w":6475,"f":2.55},{"w":6485,"f":2.5},{"w":6492,"f":2.33},{"w":6500,"f":2.48},{"w":6510,"f":2.52},{"w":6520,"f":2.55},{"w":6530,"f":2.56},{"w":6540,"f":2.5},{"w":6550,"f":2.4},{"w":6556,"f":2.22},{"w":6562,"f":2.3},{"w":6570,"f":2.45},{"w":6580,"f":2.5},{"w":6590,"f":2.47},{"w":6600,"f":2.5},{"w":6610,"f":2.44},{"w":6620,"f":2.46},{"w":6630,"f":2.42},{"w":6640,"f":2.45},{"w":6650,"f":2.4},{"w":6660,"f":2.44},{"w":6670,"f":2.38},{"w":6680,"f":2.42},{"w":6690,"f":2.37},{"w":6700,"f":2.4},{"w":6710,"f":2.35},{"w":6720,"f":2.38},{"w":6730,"f":2.34},{"w":6740,"f":2.38},{"w":6750,"f":2.33},{"w":6760,"f":2.37},{"w":6770,"f":2.32},{"w":6780,"f":2.36},{"w":6790,"f":2.31},{"w":6800,"f":2.35},{"w":6810,"f":2.3},{"w":6820,"f":2.34},{"w":6830,"f":2.29},{"w":6840,"f":2.33},{"w":6850,"f":2.28},{"w":6860,"f":2.33},{"w":6870,"f":2.29},{"w":6880,"f":2.35},{"w":6890,"f":2.32},{"w":6900,"f":2.38},{"w":6910,"f":2.35},{"w":6920,"f":2.4},{"w":6930,"f":2.36},{"w":6940,"f":2.42},{"w":6950,"f":2.4},{"w":6960,"f":2.44},{"w":6970,"f":2.42},{"w":6980,"f":2.46},{"w":6990,"f":2.43},{"w":7000,"f":2.47},{"w":7010,"f":2.44},{"w":7020,"f":2.48},{"w":7030,"f":2.45},{"w":7040,"f":2.48},{"w":7050,"f":2.4},{"w":7056,"f":2.29},{"w":7065,"f":2.32},{"w":7075,"f":2.28},{"w":7085,"f":2.3},{"w":7095,"f":2.25},{"w":7105,"f":2.27},{"w":7115,"f":2.22},{"w":7125,"f":2.24},{"w":7135,"f":2.2},{"w":7145,"f":2.22},{"w":7155,"f":2.18},{"w":7165,"f":2.2},{"w":7175,"f":2.17},{"w":7185,"f":2.2},{"w":7195,"f":2.18},{"w":7205,"f":2.22},{"w":7215,"f":2.2},{"w":7225,"f":2.25},{"w":7235,"f":2.24},{"w":7245,"f":2.28},{"w":7255,"f":2.28},{"w":7265,"f":2.33},{"w":7275,"f":2.32},{"w":7285,"f":2.36},{"w":7295,"f":2.35},{"w":7305,"f":2.38},{"w":7315,"f":2.37},{"w":7325,"f":2.4},{"w":7335,"f":2.39},{"w":7345,"f":2.42},{"w":7355,"f":2.4},{"w":7365,"f":2.43},{"w":7375,"f":2.41},{"w":7385,"f":2.44},{"w":7395,"f":2.42},{"w":7405,"f":2.45},{"w":7415,"f":2.44},{"w":7425,"f":2.46},{"w":7435,"f":2.45},{"w":7445,"f":2.47},{"w":7455,"f":2.46},{"w":7465,"f":2.48},{"w":7475,"f":2.47},{"w":7485,"f":2.49},{"w":7495,"f":2.48},{"w":7505,"f":2.5},{"w":7515,"f":2.49},{"w":7525,"f":2.51},{"w":7535,"f":2.5},{"w":7540,"f":2.5}],
"gal":[{"w":3000,"f":1.1},{"w":3010,"f":1.08},{"w":3020,"f":1.11},{"w":3030,"f":1.07},{"w":3040,"f":1.1},{"w":3050,"f":1.06},{"w":3060,"f":1.08},{"w":3070,"f":1.05},{"w":3080,"f":1.07},{"w":3090,"f":1.03},{"w":3100,"f":1.05},{"w":3110,"f":1.02},{"w":3120,"f":1.06},{"w":3133,"f":1.08},{"w":3145,"f":1.02},{"w":3160,"f":1.0},{"w":3175,"f":0.98},{"w":3190,"f":1.01},{"w":3205,"f":0.96},{"w":3218,"f":0.98},{"w":3230,"f":0.93},{"w":3245,"f":0.98},{"w":3260,"f":1.03},{"w":3275,"f":1.08},{"w":3284,"f":1.1},{"w":3295,"f":1.05},{"w":3305,"f":1.0},{"w":3315,"f":0.96},{"w":3325,"f":1.0},{"w":3335,"f":0.9},{"w":3345,"f":0.97},{"w":3355,"f":0.87},{"w":3365,"f":0.98},{"w":3375,"f":0.88},{"w":3385,"f":0.96},{"w":3395,"f":0.9},{"w":3405,"f":1.0},{"w":3415,"f":0.87},{"w":3425,"f":0.98},{"w":3435,"f":0.88},{"w":3445,"f":0.96},{"w":3455,"f":0.86},{"w":3465,"f":0.95},{"w":3475,"f":0.85},{"w":3485,"f":0.97},{"w":3495,"f":0.86},{"w":3505,"f":0.98},{"w":3515,"f":0.9},{"w":3525,"f":1.02},{"w":3535,"f":0.88},{"w":3545,"f":0.98},{"w":3555,"f":0.85},{"w":3565,"f":0.95},{"w":3575,"f":0.82},{"w":3585,"f":0.9},{"w":3597,"f":0.72},{"w":3608,"f":0.95},{"w":3618,"f":0.85},{"w":3628,"f":0.98},{"w":3638,"f":0.9},{"w":3648,"f":1.04},{"w":3660,"f":0.95},{"w":3673,"f":1.08},{"w":3683,"f":0.94},{"w":3693,"f":1.05},{"w":3703,"f":0.9},{"w":3713,"f":0.85},{"w":3722,"f":0.68},{"w":3731,"f":0.82},{"w":3740,"f":0.95},{"w":3750,"f":0.78},{"w":3760,"f":0.98},{"w":3770,"f":0.85},{"w":3780,"f":1.0},{"w":3791,"f":1.03},{"w":3800,"f":0.85},{"w":3810,"f":0.95},{"w":3820,"f":0.8},{"w":3830,"f":0.88},{"w":3845,"f":0.63},{"w":3855,"f":0.85},{"w":3865,"f":0.75},{"w":3875,"f":0.9},{"w":3885,"f":0.78},{"w":3895,"f":0.92},{"w":3905,"f":0.8},{"w":3915,"f":0.95},{"w":3925,"f":0.97},{"w":3935,"f":0.7},{"w":3942,"f":0.45},{"w":3950,"f":0.85},{"w":3958,"f":0.75},{"w":3966,"f":0.6},{"w":3975,"f":0.45},{"w":3985,"f":0.8},{"w":3995,"f":1.05},{"w":4007,"f":1.22},{"w":4015,"f":1.15},{"w":4029,"f":1.33},{"w":4040,"f":1.2},{"w":4050,"f":1.32},{"w":4060,"f":1.15},{"w":4070,"f":1.3},{"w":4080,"f":1.2},{"w":4093,"f":1.37},{"w":4102,"f":1.12},{"w":4110,"f":1.3},{"w":4120,"f":1.2},{"w":4130,"f":1.38},{"w":4140,"f":1.25},{"w":4150,"f":1.4},{"w":4160,"f":1.25},{"w":4169,"f":1.1},{"w":4180,"f":1.3},{"w":4190,"f":1.42},{"w":4200,"f":1.25},{"w":4210,"f":1.4},{"w":4220,"f":1.3},{"w":4230,"f":1.45},{"w":4244,"f":1.43},{"w":4255,"f":1.3},{"w":4266,"f":1.38},{"w":4275,"f":1.25},{"w":4285,"f":1.3},{"w":4295,"f":1.15},{"w":4305,"f":1.05},{"w":4316,"f":0.87},{"w":4326,"f":1.49},{"w":4335,"f":1.3},{"w":4345,"f":1.45},{"w":4355,"f":1.3},{"w":4365,"f":1.5},{"w":4378,"f":1.15},{"w":4386,"f":1.45},{"w":4396,"f":0.99},{"w":4405,"f":1.35},{"w":4415,"f":1.5},{"w":4425,"f":1.35},{"w":4435,"f":1.55},{"w":4445,"f":1.4},{"w":4455,"f":1.58},{"w":4465,"f":1.42},{"w":4477,"f":1.56},{"w":4487,"f":1.45},{"w":4497,"f":1.62},{"w":4507,"f":1.48},{"w":4520,"f":1.73},{"w":4530,"f":1.5},{"w":4540,"f":1.65},{"w":4550,"f":1.45},{"w":4560,"f":1.62},{"w":4570,"f":1.5},{"w":4582,"f":1.7},{"w":4592,"f":1.52},{"w":4602,"f":1.66},{"w":4612,"f":1.5},{"w":4622,"f":1.65},{"w":4632,"f":1.48},{"w":4642,"f":1.62},{"w":4652,"f":1.5},{"w":4662,"f":1.6},{"w":4672,"f":1.45},{"w":4682,"f":1.62},{"w":4692,"f":1.5},{"w":4702,"f":1.7},{"w":4712,"f":1.52},{"w":4722,"f":1.68},{"w":4732,"f":1.55},{"w":4742,"f":1.72},{"w":4752,"f":1.58},{"w":4762,"f":1.75},{"w":4772,"f":1.6},{"w":4782,"f":1.78},{"w":4790,"f":1.81},{"w":4800,"f":1.62},{"w":4810,"f":1.75},{"w":4820,"f":1.6},{"w":4830,"f":1.78},{"w":4840,"f":1.62},{"w":4850,"f":1.72},{"w":4860,"f":1.55},{"w":4866,"f":1.45},{"w":4875,"f":1.7},{"w":4885,"f":1.62},{"w":4895,"f":1.8},{"w":4909,"f":1.85},{"w":4918,"f":1.68},{"w":4928,"f":1.8},{"w":4938,"f":1.65},{"w":4948,"f":1.78},{"w":4958,"f":1.6},{"w":4965,"f":1.43},{"w":4975,"f":1.7},{"w":4985,"f":1.6},{"w":4995,"f":1.72},{"w":5005,"f":1.5},{"w":5017,"f":1.45},{"w":5025,"f":1.75},{"w":5035,"f":1.6},{"w":5045,"f":1.78},{"w":5055,"f":1.62},{"w":5065,"f":1.75},{"w":5075,"f":1.6},{"w":5085,"f":1.72},{"w":5095,"f":1.55},{"w":5105,"f":1.7},{"w":5115,"f":1.55},{"w":5125,"f":1.68},{"w":5135,"f":1.5},{"w":5145,"f":1.62},{"w":5155,"f":1.45},{"w":5165,"f":1.3},{"w":5172,"f":1.12},{"w":5178,"f":1.08},{"w":5185,"f":1.2},{"w":5195,"f":1.45},{"w":5205,"f":1.55},{"w":5215,"f":1.48},{"w":5225,"f":1.62},{"w":5235,"f":1.5},{"w":5245,"f":1.66},{"w":5255,"f":1.5},{"w":5265,"f":1.68},{"w":5275,"f":1.55},{"w":5286,"f":1.79},{"w":5296,"f":1.6},{"w":5306,"f":1.75},{"w":5316,"f":1.62},{"w":5326,"f":1.8},{"w":5336,"f":1.65},{"w":5346,"f":1.82},{"w":5356,"f":1.7},{"w":5362,"f":1.94},{"w":5372,"f":1.7},{"w":5382,"f":1.85},{"w":5392,"f":1.65},{"w":5402,"f":1.8},{"w":5412,"f":1.6},{"w":5422,"f":1.82},{"w":5432,"f":1.65},{"w":5442,"f":1.85},{"w":5452,"f":1.68},{"w":5462,"f":1.86},{"w":5472,"f":1.7},{"w":5482,"f":1.85},{"w":5492,"f":1.68},{"w":5502,"f":1.88},{"w":5512,"f":1.7},{"w":5522,"f":1.85},{"w":5532,"f":1.72},{"w":5542,"f":1.88},{"w":5556,"f":1.89},{"w":5566,"f":1.72},{"w":5576,"f":1.85},{"w":5586,"f":1.65},{"w":5596,"f":1.82},{"w":5606,"f":1.7},{"w":5616,"f":1.88},{"w":5626,"f":1.72},{"w":5636,"f":1.9},{"w":5646,"f":1.75},{"w":5656,"f":1.88},{"w":5666,"f":1.74},{"w":5676,"f":1.9},{"w":5686,"f":1.75},{"w":5696,"f":1.92},{"w":5706,"f":1.78},{"w":5716,"f":1.9},{"w":5726,"f":1.76},{"w":5736,"f":1.93},{"w":5746,"f":1.8},{"w":5756,"f":1.95},{"w":5766,"f":1.8},{"w":5776,"f":1.96},{"w":5793,"f":1.98},{"w":5802,"f":1.82},{"w":5812,"f":1.95},{"w":5822,"f":1.8},{"w":5832,"f":1.92},{"w":5842,"f":1.78},{"w":5852,"f":1.9},{"w":5862,"f":1.8},{"w":5872,"f":1.88},{"w":5880,"f":1.6},{"w":5885,"f":1.3},{"w":5890,"f":1.26},{"w":5897,"f":1.3},{"w":5905,"f":1.7},{"w":5908,"f":1.81},{"w":5918,"f":1.72},{"w":5928,"f":1.86},{"w":5938,"f":1.75},{"w":5948,"f":1.88},{"w":5958,"f":1.76},{"w":5968,"f":1.9},{"w":5981,"f":1.88},{"w":5991,"f":1.78},{"w":6001,"f":1.92},{"w":6011,"f":1.8},{"w":6021,"f":1.94},{"w":6031,"f":1.82},{"w":6041,"f":1.95},{"w":6055,"f":1.98},{"w":6065,"f":1.85},{"w":6075,"f":1.92},{"w":6085,"f":1.8},{"w":6095,"f":1.85},{"w":6105,"f":1.75},{"w":6115,"f":1.82},{"w":6125,"f":1.72},{"w":6135,"f":1.8},{"w":6145,"f":1.7},{"w":6155,"f":1.6},{"w":6160,"f":1.58},{"w":6170,"f":1.75},{"w":6180,"f":1.65},{"w":6190,"f":1.8},{"w":6200,"f":1.7},{"w":6213,"f":1.77},{"w":6222,"f":1.68},{"w":6234,"f":1.66},{"w":6245,"f":1.75},{"w":6255,"f":1.68},{"w":6265,"f":1.78},{"w":6275,"f":1.7},{"w":6285,"f":1.8},{"w":6295,"f":1.72},{"w":6305,"f":1.82},{"w":6319,"f":1.85},{"w":6330,"f":1.76},{"w":6340,"f":1.86},{"w":6350,"f":1.78},{"w":6360,"f":1.88},{"w":6370,"f":1.8},{"w":6380,"f":1.9},{"w":6390,"f":1.82},{"w":6400,"f":1.9},{"w":6410,"f":1.84},{"w":6424,"f":1.94},{"w":6434,"f":1.84},{"w":6444,"f":1.92},{"w":6454,"f":1.82},{"w":6464,"f":1.9},{"w":6474,"f":1.8},{"w":6487,"f":1.66},{"w":6495,"f":1.85},{"w":6505,"f":1.9},{"w":6515,"f":1.84},{"w":6529,"f":1.94},{"w":6540,"f":1.8},{"w":6550,"f":1.65},{"w":6556,"f":1.45},{"w":6561,"f":1.4},{"w":6567,"f":1.55},{"w":6575,"f":1.8},{"w":6584,"f":1.85},{"w":6593,"f":1.9},{"w":6603,"f":1.82},{"w":6613,"f":1.88},{"w":6623,"f":1.8},{"w":6633,"f":1.85},{"w":6643,"f":1.76},{"w":6653,"f":1.82},{"w":6663,"f":1.75},{"w":6673,"f":1.8},{"w":6687,"f":1.73},{"w":6697,"f":1.8},{"w":6707,"f":1.74},{"w":6717,"f":1.8},{"w":6727,"f":1.74},{"w":6737,"f":1.78},{"w":6747,"f":1.72},{"w":6757,"f":1.78},{"w":6767,"f":1.73},{"w":6777,"f":1.79},{"w":6793,"f":1.77},{"w":6803,"f":1.72},{"w":6813,"f":1.78},{"w":6823,"f":1.72},{"w":6833,"f":1.78},{"w":6843,"f":1.71},{"w":6853,"f":1.76},{"w":6867,"f":1.73},{"w":6877,"f":1.78},{"w":6887,"f":1.75},{"w":6897,"f":1.8},{"w":6907,"f":1.76},{"w":6917,"f":1.82},{"w":6927,"f":1.78},{"w":6937,"f":1.84},{"w":6951,"f":1.85},{"w":6961,"f":1.8},{"w":6971,"f":1.88},{"w":6981,"f":1.82},{"w":6991,"f":1.9},{"w":7001,"f":1.84},{"w":7011,"f":1.92},{"w":7021,"f":1.86},{"w":7035,"f":1.96},{"w":7045,"f":1.85},{"w":7056,"f":1.73},{"w":7066,"f":1.76},{"w":7076,"f":1.7},{"w":7086,"f":1.74},{"w":7096,"f":1.68},{"w":7106,"f":1.72},{"w":7116,"f":1.66},{"w":7126,"f":1.7},{"w":7141,"f":1.66},{"w":7151,"f":1.62},{"w":7161,"f":1.66},{"w":7171,"f":1.61},{"w":7183,"f":1.62},{"w":7193,"f":1.68},{"w":7203,"f":1.65},{"w":7213,"f":1.7},{"w":7223,"f":1.68},{"w":7233,"f":1.74},{"w":7243,"f":1.72},{"w":7253,"f":1.78},{"w":7267,"f":1.83},{"w":7277,"f":1.8},{"w":7287,"f":1.86},{"w":7297,"f":1.82},{"w":7307,"f":1.88},{"w":7317,"f":1.84},{"w":7327,"f":1.9},{"w":7337,"f":1.86},{"w":7347,"f":1.91},{"w":7357,"f":1.87},{"w":7373,"f":1.9},{"w":7383,"f":1.88},{"w":7393,"f":1.93},{"w":7403,"f":1.9},{"w":7413,"f":1.94},{"w":7423,"f":1.9},{"w":7433,"f":1.95},{"w":7443,"f":1.92},{"w":7453,"f":1.96},{"w":7463,"f":1.92},{"w":7478,"f":1.94},{"w":7488,"f":1.96},{"w":7498,"f":1.92},{"w":7508,"f":1.97},{"w":7518,"f":1.95},{"w":7525,"f":1.99},{"w":7540,"f":2.0}],
"pl":[{"w":3000,"f":2.52},{"w":3200,"f":2.24},{"w":3400,"f":2.0},{"w":3600,"f":1.8},{"w":3800,"f":1.62},{"w":4000,"f":1.47},{"w":4200,"f":1.33},{"w":4400,"f":1.22},{"w":4600,"f":1.12},{"w":4800,"f":1.04},{"w":5000,"f":0.97},{"w":5200,"f":0.91},{"w":5400,"f":0.86},{"w":5600,"f":0.81},{"w":5800,"f":0.76},{"w":6000,"f":0.72},{"w":6200,"f":0.68},{"w":6400,"f":0.65},{"w":6600,"f":0.62},{"w":6800,"f":0.59},{"w":7000,"f":0.57},{"w":7200,"f":0.55},{"w":7400,"f":0.53},{"w":7540,"f":0.51}],
"el":[{"w":3000,"f":-0.4},{"w":3004,"f":0.1},{"w":3008,"f":-0.4},{"w":3012,"f":0.05},{"w":3016,"f":-0.4},{"w":3020,"f":-0.1},{"w":3026,"f":-0.4},{"w":3032,"f":0.0},{"w":3038,"f":-0.38},{"w":3044,"f":-0.05},{"w":3050,"f":-0.35},{"w":3056,"f":0.1},{"w":3062,"f":-0.3},{"w":3068,"f":0.05},{"w":3074,"f":-0.4},{"w":3080,"f":0.15},{"w":3086,"f":-0.2},{"w":3092,"f":0.3},{"w":3098,"f":-0.1},{"w":3104,"f":0.45},{"w":3110,"f":-0.15},{"w":3116,"f":0.4},{"w":3122,"f":0.05},{"w":3128,"f":0.5},{"w":3134,"f":-0.05},{"w":3139,"f":0.53},{"w":3145,"f":0.0},{"w":3150,"f":0.35},{"w":3156,"f":-0.2},{"w":3162,"f":0.3},{"w":3168,"f":-0.1},{"w":3174,"f":0.4},{"w":3180,"f":-0.25},{"w":3186,"f":0.45},{"w":3192,"f":0.0},{"w":3198,"f":0.35},{"w":3204,"f":-0.2},{"w":3210,"f":0.3},{"w":3216,"f":-0.15},{"w":3222,"f":0.25},{"w":3228,"f":-0.27},{"w":3234,"f":0.2},{"w":3240,"f":-0.1},{"w":3246,"f":0.3},{"w":3252,"f":-0.2},{"w":3258,"f":0.2},{"w":3264,"f":-0.3},{"w":3270,"f":0.26},{"w":3276,"f":-0.1},{"w":3282,"f":0.25},{"w":3288,"f":-0.4},{"w":3294,"f":0.2},{"w":3300,"f":-0.05},{"w":3306,"f":0.3},{"w":3312,"f":-0.15},{"w":3318,"f":0.25},{"w":3324,"f":-0.2},{"w":3330,"f":0.35},{"w":3336,"f":-0.1},{"w":3342,"f":0.44},{"w":3348,"f":-0.05},{"w":3354,"f":0.3},{"w":3360,"f":-0.2},{"w":3366,"f":0.2},{"w":3372,"f":-0.25},{"w":3378,"f":0.3},{"w":3384,"f":-0.1},{"w":3390,"f":0.25},{"w":3396,"f":-0.2},{"w":3402,"f":0.3},{"w":3408,"f":0.0},{"w":3414,"f":0.25},{"w":3420,"f":-0.1},{"w":3426,"f":0.2},{"w":3430,"f":1.2},{"w":3435,"f":0.1},{"w":3440,"f":-0.1},{"w":3446,"f":0.25},{"w":3452,"f":-0.05},{"w":3458,"f":0.2},{"w":3464,"f":-0.15},{"w":3470,"f":0.28},{"w":3476,"f":-0.1},{"w":3482,"f":0.2},{"w":3488,"f":-0.27},{"w":3494,"f":0.15},{"w":3500,"f":-0.2},{"w":3506,"f":0.22},{"w":3512,"f":-0.1},{"w":3518,"f":0.25},{"w":3524,"f":-0.15},{"w":3530,"f":0.3},{"w":3536,"f":-0.1},{"w":3542,"f":0.25},{"w":3548,"f":-0.05},{"w":3554,"f":0.2},{"w":3560,"f":-0.15},{"w":3566,"f":0.25},{"w":3572,"f":-0.1},{"w":3578,"f":0.2},{"w":3584,"f":-0.2},{"w":3590,"f":0.15},{"w":3596,"f":-0.25},{"w":3602,"f":0.2},{"w":3608,"f":-0.15},{"w":3614,"f":0.25},{"w":3620,"f":-0.1},{"w":3626,"f":0.22},{"w":3632,"f":-0.05},{"w":3638,"f":0.2},{"w":3644,"f":-0.1},{"w":3650,"f":0.3},{"w":3656,"f":0.0},{"w":3662,"f":0.25},{"w":3668,"f":-0.1},{"w":3674,"f":0.2},{"w":3680,"f":-0.05},{"w":3686,"f":0.3},{"w":3692,"f":-0.15},{"w":3698,"f":0.25},{"w":3704,"f":-0.1},{"w":3710,"f":0.35},{"w":3716,"f":0.0},{"w":3722,"f":0.45},{"w":3728,"f":0.1},{"w":3732,"f":0.7},{"w":3736,"f":1.62},{"w":3740,"f":0.5},{"w":3744,"f":0.05},{"w":3750,"f":0.4},{"w":3756,"f":-0.1},{"w":3762,"f":0.3},{"w":3768,"f":-0.05},{"w":3774,"f":0.25},{"w":3780,"f":-0.15},{"w":3786,"f":0.35},{"w":3792,"f":0.0},{"w":3798,"f":0.3},{"w":3804,"f":-0.1},{"w":3810,"f":0.25},{"w":3816,"f":-0.05},{"w":3822,"f":0.3},{"w":3828,"f":-0.15},{"w":3834,"f":0.2},{"w":3840,"f":-0.1},{"w":3846,"f":0.3},{"w":3852,"f":-0.1},{"w":3858,"f":0.35},{"w":3864,"f":-0.05},{"w":3870,"f":0.4},{"w":3875,"f":0.8},{"w":3880,"f":0.2},{"w":3886,"f":-0.15},{"w":3892,"f":0.25},{"w":3898,"f":-0.1},{"w":3904,"f":0.2},{"w":3910,"f":-0.2},{"w":3916,"f":0.25},{"w":3922,"f":-0.15},{"w":3928,"f":0.15},{"w":3932,"f":-0.4},{"w":3938,"f":0.1},{"w":3944,"f":-0.4},{"w":3950,"f":0.15},{"w":3956,"f":-0.3},{"w":3962,"f":0.2},{"w":3968,"f":-0.4},{"w":3974,"f":0.1},{"w":3980,"f":-0.3},{"w":3986,"f":0.2},{"w":3992,"f":-0.1},{"w":3998,"f":0.3},{"w":4004,"f":0.0},{"w":4010,"f":0.25},{"w":4016,"f":-0.1},{"w":4022,"f":0.2},{"w":4028,"f":-0.15},{"w":4034,"f":0.25},{"w":4040,"f":-0.05},{"w":4046,"f":0.2},{"w":4052,"f":-0.1},{"w":4058,"f":0.25},{"w":4064,"f":0.0},{"w":4070,"f":0.2},{"w":4076,"f":-0.1},{"w":4082,"f":0.3},{"w":4088,"f":-0.05},{"w":4094,"f":0.2},{"w":4100,"f":-0.15},{"w":4106,"f":0.15},{"w":4112,"f":-0.2},{"w":4118,"f":0.2},{"w":4124,"f":-0.27},{"w":4130,"f":0.1},{"w":4136,"f":-0.2},{"w":4142,"f":0.15},{"w":4148,"f":-0.1},{"w":4154,"f":0.2},{"w":4160,"f":-0.15},{"w":4166,"f":0.22},{"w":4172,"f":0.0},{"w":4178,"f":0.2},{"w":4184,"f":-0.1},{"w":4190,"f":0.25},{"w":4196,"f":0.0},{"w":4202,"f":0.2},{"w":4208,"f":-0.1},{"w":4214,"f":0.25},{"w":4220,"f":-0.05},{"w":4226,"f":0.2},{"w":4232,"f":-0.1},{"w":4238,"f":0.22},{"w":4244,"f":0.0},{"w":4250,"f":0.25},{"w":4256,"f":-0.05},{"w":4262,"f":0.2},{"w":4268,"f":-0.1},{"w":4274,"f":0.22},{"w":4280,"f":-0.2},{"w":4287,"f":0.17},{"w":4294,"f":-0.15},{"w":4300,"f":0.25},{"w":4306,"f":-0.1},{"w":4312,"f":0.3},{"w":4318,"f":0.05},{"w":4324,"f":0.35},{"w":4330,"f":0.1},{"w":4336,"f":0.45},{"w":4342,"f":0.2},{"w":4348,"f":0.55},{"w":4354,"f":0.25},{"w":4360,"f":0.45},{"w":4366,"f":0.15},{"w":4372,"f":0.35},{"w":4378,"f":0.0},{"w":4384,"f":0.25},{"w":4390,"f":-0.1},{"w":4396,"f":0.2},{"w":4402,"f":-0.2},{"w":4408,"f":0.1},{"w":4413,"f":-0.39},{"w":4418,"f":0.1},{"w":4424,"f":-0.15},{"w":4430,"f":0.15},{"w":4436,"f":-0.1},{"w":4442,"f":0.2},{"w":4448,"f":-0.1},{"w":4454,"f":0.15},{"w":4460,"f":-0.15},{"w":4466,"f":0.2},{"w":4472,"f":-0.05},{"w":4478,"f":0.25},{"w":4484,"f":0.0},{"w":4490,"f":0.2},{"w":4496,"f":-0.05},{"w":4502,"f":0.25},{"w":4508,"f":0.0},{"w":4514,"f":0.22},{"w":4520,"f":0.26},{"w":4526,"f":0.0},{"w":4532,"f":0.25},{"w":4538,"f":-0.05},{"w":4544,"f":0.2},{"w":4550,"f":-0.1},{"w":4556,"f":0.25},{"w":4562,"f":0.0},{"w":4568,"f":0.2},{"w":4574,"f":-0.05},{"w":4580,"f":0.28},{"w":4586,"f":0.0},{"w":4592,"f":0.2},{"w":4598,"f":-0.1},{"w":4604,"f":0.22},{"w":4610,"f":0.0},{"w":4616,"f":0.25},{"w":4622,"f":-0.05},{"w":4628,"f":0.2},{"w":4634,"f":-0.1},{"w":4640,"f":0.25},{"w":4646,"f":0.0},{"w":4652,"f":0.2},{"w":4658,"f":-0.05},{"w":4664,"f":0.22},{"w":4670,"f":-0.1},{"w":4676,"f":0.25},{"w":4682,"f":0.0},{"w":4688,"f":0.3},{"w":4694,"f":0.32},{"w":4700,"f":0.05},{"w":4706,"f":0.15},{"w":4712,"f":-0.15},{"w":4716,"f":-0.39},{"w":4720,"f":0.0},{"w":4726,"f":0.1},{"w":4732,"f":-0.1},{"w":4738,"f":0.05},{"w":4744,"f":-0.05},{"w":4750,"f":0.1},{"w":4756,"f":0.0},{"w":4762,"f":0.12},{"w":4768,"f":0.0},{"w":4774,"f":0.15},{"w":4780,"f":0.05},{"w":4786,"f":0.2},{"w":4792,"f":0.1},{"w":4798,"f":0.25},{"w":4804,"f":0.15},{"w":4810,"f":0.3},{"w":4816,"f":0.2},{"w":4822,"f":0.4},{"w":4828,"f":0.35},{"w":4834,"f":0.5},{"w":4840,"f":0.55},{"w":4846,"f":0.7},{"w":4852,"f":0.95},{"w":4858,"f":1.3},{"w":4863,"f":1.79},{"w":4868,"f":1.2},{"w":4874,"f":0.8},{"w":4880,"f":0.7},{"w":4886,"f":0.55},{"w":4892,"f":0.5},{"w":4898,"f":0.4},{"w":4904,"f":0.35},{"w":4910,"f":0.3},{"w":4916,"f":0.25},{"w":4922,"f":0.2},{"w":4928,"f":0.15},{"w":4934,"f":0.1},{"w":4940,"f":0.05},{"w":4946,"f":0.0},{"w":4952,"f":-0.06},{"w":4956,"f":0.3},{"w":4960,"f":1.45},{"w":4964,"f":0.3},{"w":4970,"f":0.0},{"w":4976,"f":0.05},{"w":4982,"f":-0.05},{"w":4988,"f":0.1},{"w":4994,"f":0.0},{"w":5000,"f":0.3},{"w":5004,"f":4.07},{"w":5009,"f":4.07},{"w":5013,"f":0.3},{"w":5018,"f":0.1},{"w":5024,"f":0.15},{"w":5030,"f":-0.05},{"w":5036,"f":0.2},{"w":5042,"f":0.05},{"w":5048,"f":0.22},{"w":5054,"f":0.0},{"w":5060,"f":0.2},{"w":5066,"f":-0.05},{"w":5072,"f":0.15},{"w":5078,"f":-0.1},{"w":5084,"f":0.12},{"w":5090,"f":-0.05},{"w":5096,"f":0.1},{"w":5102,"f":-0.1},{"w":5108,"f":0.08},{"w":5114,"f":-0.12},{"w":5120,"f":0.1},{"w":5126,"f":-0.08},{"w":5132,"f":0.05},{"w":5138,"f":-0.05},{"w":5144,"f":0.1},{"w":5150,"f":-0.1},{"w":5156,"f":0.15},{"w":5162,"f":-0.05},{"w":5168,"f":0.12},{"w":5174,"f":-0.1},{"w":5180,"f":0.15},{"w":5186,"f":0.0},{"w":5192,"f":0.12},{"w":5200,"f":0.17},{"w":5206,"f":0.0},{"w":5212,"f":0.1},{"w":5218,"f":-0.05},{"w":5224,"f":0.15},{"w":5230,"f":0.0},{"w":5236,"f":0.12},{"w":5242,"f":-0.1},{"w":5248,"f":0.1},{"w":5254,"f":-0.05},{"w":5260,"f":0.15},{"w":5266,"f":0.0},{"w":5272,"f":0.12},{"w":5278,"f":-0.08},{"w":5284,"f":0.1},{"w":5290,"f":0.0},{"w":5296,"f":0.15},{"w":5302,"f":0.05},{"w":5308,"f":0.19},{"w":5314,"f":0.0},{"w":5320,"f":0.1},{"w":5326,"f":-0.1},{"w":5332,"f":0.08},{"w":5338,"f":-0.15},{"w":5344,"f":0.05},{"w":5350,"f":-0.1},{"w":5356,"f":0.08},{"w":5362,"f":-0.15},{"w":5368,"f":0.05},{"w":5374,"f":-0.2},{"w":5380,"f":0.0},{"w":5386,"f":-0.25},{"w":5392,"f":0.05},{"w":5398,"f":-0.15},{"w":5404,"f":0.0},{"w":5410,"f":-0.3},{"w":5416,"f":0.05},{"w":5422,"f":-0.2},{"w":5426,"f":-0.16},{"w":5432,"f":0.02},{"w":5438,"f":-0.25},{"w":5444,"f":0.0},{"w":5448,"f":-0.39},{"w":5454,"f":0.05},{"w":5460,"f":-0.3},{"w":5466,"f":0.08},{"w":5472,"f":-0.2},{"w":5478,"f":0.05},{"w":5484,"f":-0.25},{"w":5490,"f":0.05},{"w":5496,"f":-0.35},{"w":5502,"f":0.1},{"w":5508,"f":-0.15},{"w":5514,"f":0.05},{"w":5520,"f":-0.2},{"w":5526,"f":0.1},{"w":5532,"f":-0.1},{"w":5538,"f":0.12},{"w":5544,"f":-0.15},{"w":5550,"f":0.05},{"w":5556,"f":-0.1},{"w":5562,"f":0.1},{"w":5568,"f":-0.05},{"w":5574,"f":0.12},{"w":5580,"f":-0.1},{"w":5586,"f":0.1},{"w":5592,"f":-0.05},{"w":5598,"f":0.15},{"w":5604,"f":0.0},{"w":5610,"f":0.12},{"w":5616,"f":-0.05},{"w":5622,"f":0.15},{"w":5628,"f":-0.1},{"w":5634,"f":0.1},{"w":5640,"f":0.0},{"w":5646,"f":0.15},{"w":5652,"f":-0.05},{"w":5658,"f":0.12},{"w":5664,"f":-0.1},{"w":5670,"f":0.1},{"w":5676,"f":0.0},{"w":5682,"f":0.12},{"w":5688,"f":-0.05},{"w":5694,"f":0.15},{"w":5700,"f":0.0},{"w":5706,"f":0.1},{"w":5712,"f":-0.05},{"w":5718,"f":0.12},{"w":5724,"f":0.0},{"w":5730,"f":0.15},{"w":5736,"f":-0.1},{"w":5742,"f":0.18},{"w":5748,"f":-0.05},{"w":5754,"f":0.2},{"w":5760,"f":-0.1},{"w":5766,"f":0.22},{"w":5772,"f":0.22},{"w":5778,"f":-0.15},{"w":5784,"f":0.1},{"w":5790,"f":-0.35},{"w":5796,"f":0.15},{"w":5802,"f":-0.1},{"w":5808,"f":0.2},{"w":5814,"f":-0.2},{"w":5820,"f":0.25},{"w":5826,"f":0.0},{"w":5832,"f":0.3},{"w":5838,"f":-0.1},{"w":5844,"f":0.3},{"w":5850,"f":0.05},{"w":5856,"f":0.35},{"w":5862,"f":0.1},{"w":5868,"f":0.45},{"w":5874,"f":0.55},{"w":5880,"f":0.3},{"w":5886,"f":-0.1},{"w":5892,"f":0.2},{"w":5898,"f":-0.2},{"w":5904,"f":0.25},{"w":5910,"f":-0.25},{"w":5916,"f":0.2},{"w":5922,"f":-0.15},{"w":5928,"f":0.25},{"w":5934,"f":-0.1},{"w":5940,"f":0.2},{"w":5946,"f":-0.2},{"w":5952,"f":0.25},{"w":5958,"f":-0.1},{"w":5964,"f":0.3},{"w":5970,"f":-0.15},{"w":5976,"f":0.25},{"w":5982,"f":-0.2},{"w":5988,"f":0.3},{"w":5994,"f":-0.32},{"w":6000,"f":0.2},{"w":6006,"f":-0.3},{"w":6012,"f":0.25},{"w":6018,"f":-0.2},{"w":6024,"f":0.3},{"w":6030,"f":-0.1},{"w":6036,"f":0.25},{"w":6042,"f":-0.15},{"w":6048,"f":0.2},{"w":6054,"f":-0.1},{"w":6060,"f":0.25},{"w":6066,"f":-0.05},{"w":6072,"f":0.2},{"w":6078,"f":-0.2},{"w":6084,"f":0.15},{"w":6090,"f":-0.1},{"w":6096,"f":0.2},{"w":6102,"f":-0.15},{"w":6108,"f":0.25},{"w":6114,"f":-0.1},{"w":6120,"f":0.2},{"w":6126,"f":-0.2},{"w":6132,"f":0.15},{"w":6138,"f":-0.1},{"w":6144,"f":0.2},{"w":6150,"f":-0.05},{"w":6156,"f":0.25},{"w":6162,"f":-0.1},{"w":6168,"f":0.2},{"w":6174,"f":-0.15},{"w":6180,"f":0.25},{"w":6186,"f":-0.1},{"w":6192,"f":0.3},{"w":6198,"f":-0.1},{"w":6204,"f":0.35},{"w":6210,"f":0.0},{"w":6216,"f":0.4},{"w":6222,"f":-0.4},{"w":6228,"f":0.5},{"w":6234,"f":1.25},{"w":6238,"f":0.4},{"w":6242,"f":-0.4},{"w":6248,"f":0.5},{"w":6254,"f":0.1},{"w":6260,"f":0.6},{"w":6266,"f":-0.2},{"w":6271,"f":1.12},{"w":6276,"f":0.3},{"w":6282,"f":-0.4},{"w":6288,"f":0.3},{"w":6294,"f":-0.1},{"w":6300,"f":0.25},{"w":6306,"f":-0.2},{"w":6312,"f":0.2},{"w":6318,"f":-0.1},{"w":6324,"f":0.25},{"w":6330,"f":-0.15},{"w":6336,"f":0.2},{"w":6342,"f":-0.2},{"w":6348,"f":0.15},{"w":6354,"f":-0.25},{"w":6360,"f":0.2},{"w":6366,"f":-0.15},{"w":6372,"f":0.25},{"w":6378,"f":-0.1},{"w":6384,"f":0.2},{"w":6390,"f":-0.15},{"w":6396,"f":0.25},{"w":6402,"f":-0.05},{"w":6408,"f":0.2},{"w":6414,"f":-0.1},{"w":6420,"f":0.25},{"w":6426,"f":0.0},{"w":6432,"f":0.3},{"w":6438,"f":0.05},{"w":6444,"f":0.3},{"w":6450,"f":0.1},{"w":6456,"f":0.3},{"w":6462,"f":0.05},{"w":6468,"f":0.35},{"w":6474,"f":0.15},{"w":6480,"f":0.4},{"w":6487,"f":0.69},{"w":6494,"f":0.5},{"w":6500,"f":0.6},{"w":6510,"f":0.8},{"w":6520,"f":0.95},{"w":6529,"f":1.06},{"w":6536,"f":1.4},{"w":6540,"f":1.6},{"w":6543,"f":9.0},{"w":6546,"f":1.7},{"w":6549,"f":9.0},{"w":6552,"f":1.9},{"w":6555,"f":9.0},{"w":6558,"f":2.0},{"w":6561,"f":9.0},{"w":6564,"f":2.0},{"w":6567,"f":9.0},{"w":6570,"f":1.9},{"w":6573,"f":9.0},{"w":6576,"f":1.7},{"w":6579,"f":9.0},{"w":6582,"f":1.5},{"w":6585,"f":9.0},{"w":6589,"f":1.4},{"w":6594,"f":1.6},{"w":6603,"f":1.25},{"w":6610,"f":0.9},{"w":6616,"f":0.7},{"w":6624,"f":0.5},{"w":6628,"f":-0.3},{"w":6632,"f":0.4},{"w":6636,"f":-0.35},{"w":6640,"f":0.3},{"w":6646,"f":0.0},{"w":6652,"f":0.35},{"w":6658,"f":-0.1},{"w":6664,"f":0.3},{"w":6670,"f":0.0},{"w":6676,"f":0.35},{"w":6682,"f":0.1},{"w":6688,"f":0.45},{"w":6694,"f":0.3},{"w":6700,"f":0.6},{"w":6705,"f":0.8},{"w":6710,"f":0.5},{"w":6716,"f":0.75},{"w":6722,"f":0.4},{"w":6728,"f":0.6},{"w":6734,"f":0.2},{"w":6740,"f":0.4},{"w":6746,"f":0.1},{"w":6752,"f":0.3},{"w":6758,"f":0.0},{"w":6764,"f":0.25},{"w":6770,"f":-0.05},{"w":6776,"f":0.2},{"w":6782,"f":0.0},{"w":6788,"f":0.15},{"w":6794,"f":-0.1},{"w":6800,"f":0.12},{"w":6806,"f":-0.05},{"w":6812,"f":0.15},{"w":6818,"f":0.0},{"w":6824,"f":0.12},{"w":6830,"f":-0.1},{"w":6836,"f":0.1},{"w":6842,"f":0.0},{"w":6848,"f":0.15},{"w":6854,"f":0.05},{"w":6860,"f":0.18},{"w":6866,"f":0.1},{"w":6872,"f":0.2},{"w":6878,"f":0.15},{"w":6884,"f":0.22},{"w":6890,"f":0.2},{"w":6896,"f":0.1},{"w":6902,"f":-0.1},{"w":6908,"f":0.15},{"w":6914,"f":-0.25},{"w":6920,"f":0.2},{"w":6926,"f":-0.3},{"w":6932,"f":0.25},{"w":6938,"f":-0.2},{"w":6944,"f":0.3},{"w":6950,"f":-0.35},{"w":6956,"f":0.2},{"w":6962,"f":-0.15},{"w":6968,"f":0.3},{"w":6974,"f":-0.4},{"w":6980,"f":0.35},{"w":6986,"f":-0.2},{"w":6992,"f":0.3},{"w":6998,"f":-0.1},{"w":7004,"f":0.45},{"w":7010,"f":-0.3},{"w":7016,"f":0.35},{"w":7022,"f":-0.2},{"w":7028,"f":0.4},{"w":7034,"f":-0.1},{"w":7040,"f":0.35},{"w":7046,"f":-0.25},{"w":7052,"f":0.5},{"w":7056,"f":0.63},{"w":7062,"f":-0.4},{"w":7068,"f":0.3},{"w":7074,"f":-0.2},{"w":7080,"f":0.4},{"w":7086,"f":-0.3},{"w":7092,"f":0.35},{"w":7098,"f":-0.15},{"w":7104,"f":0.3},{"w":7110,"f":-0.35},{"w":7116,"f":0.25},{"w":7122,"f":-0.2},{"w":7128,"f":0.4},{"w":7134,"f":-0.4},{"w":7140,"f":0.3},{"w":7146,"f":-0.1},{"w":7152,"f":0.35},{"w":7158,"f":-0.3},{"w":7164,"f":0.4},{"w":7170,"f":-0.2},{"w":7176,"f":0.3},{"w":7182,"f":-0.35},{"w":7188,"f":0.35},{"w":7194,"f":-0.15},{"w":7200,"f":0.4},{"w":7206,"f":-0.3},{"w":7212,"f":0.3},{"w":7218,"f":-0.2},{"w":7224,"f":0.45},{"w":7230,"f":-0.1},{"w":7236,"f":0.4},{"w":7242,"f":-0.25},{"w":7246,"f":0.57},{"w":7252,"f":-0.4},{"w":7258,"f":0.3},{"w":7264,"f":-0.2},{"w":7270,"f":0.4},{"w":7276,"f":-0.35},{"w":7282,"f":0.35},{"w":7288,"f":-0.1},{"w":7294,"f":0.45},{"w":7300,"f":-0.4},{"w":7306,"f":0.35},{"w":7312,"f":-0.3},{"w":7318,"f":0.45},{"w":7324,"f":-0.15},{"w":7330,"f":0.5},{"w":7336,"f":-0.35},{"w":7342,"f":0.6},{"w":7348,"f":-0.2},{"w":7354,"f":0.4},{"w":7360,"f":-0.4},{"w":7366,"f":0.45},{"w":7372,"f":-0.1},{"w":7378,"f":0.35},{"w":7384,"f":-0.3},{"w":7390,"f":0.5},{"w":7396,"f":-0.2},{"w":7402,"f":0.4},{"w":7408,"f":-0.4},{"w":7415,"f":0.95},{"w":7422,"f":-0.2},{"w":7428,"f":0.45},{"w":7434,"f":-0.4},{"w":7440,"f":0.5},{"w":7446,"f":-0.1},{"w":7452,"f":0.4},{"w":7458,"f":-0.35},{"w":7464,"f":0.5},{"w":7470,"f":-0.4},{"w":7478,"f":0.74},{"w":7484,"f":-0.2},{"w":7490,"f":0.45},{"w":7496,"f":-0.4},{"w":7502,"f":0.55},{"w":7508,"f":-0.1},{"w":7514,"f":0.4},{"w":7520,"f":-0.35},{"w":7526,"f":0.5},{"w":7532,"f":-0.4},{"w":7538,"f":0.35}]
},
"resolve":{"axis":{"x":"independent","y":"independent"}},
"layer":[
{"data":{"name":"spec"},"mark":{"type":"line","clip":true,"strokeWidth":4.5,"strokeJoin":"round"},
 "encoding":{
  "x":{"field":"w","type":"quantitative","scale":{"domain":[2616,7540],"nice":false,"zero":false},
   "axis":{"orient":"bottom","values":[3000,4000,5000,6000,7000],"format":"d","tickSize":-16,"labelPadding":28,"labelFlush":false,"labelOverlap":false,"title":"Wavelength [Å]","titleX":885,"titleY":100,"titleBaseline":"alphabetic","titleAlign":"center","zindex":1}},
  "y":{"field":"f","type":"quantitative","scale":{"domain":[-0.363,5.37],"nice":false,"zero":false},
   "axis":{"orient":"left","values":[0,1,2,3,4,5],"format":"d","tickSize":-16,"labelPadding":29,"labelFlush":false,"labelOverlap":false,"title":"Flux [10⁻¹⁷ erg/s/cm² /Å]","titleFontSize":58,"titleX":-79,"titleY":581,"titleAngle":270,"titleBaseline":"alphabetic","titleAlign":"center","zindex":1}},
  "color":{"datum":"Resampled_spec","type":"nominal",
   "scale":{"domain":["Resampled_spec","Syntetic_spec","Power Law","Host Galaxy","Synt Galaxy","Synt Galaxy 2","E.Lines"],"range":["#000000","#ff0000","#008000","#daa520","#ffff00","#ffc0cb","#ee82ee"]},
   "legend":{"title":" ","titleOrient":"right","titlePadding":35,"titleFontSize":33,"titleColor":"white","orient":"none","legendX":1317,"legendY":17,"padding":8,"symbolOffset":13,"fillColor":"white","strokeColor":"black","symbolType":"stroke","symbolSize":3136,"symbolStrokeWidth":4.5,"symbolOpacity":1,"labelFont":"DejaVu Sans","labelFontSize":33,"labelColor":"black","labelLimit":0,"labelOffset":38,"rowPadding":8,"labelExpr":"datum.label == 'Synt Galaxy 2' ? 'Synt Galaxy' : datum.label"}}}},
{"data":{"name":"synt"},"mark":{"type":"line","clip":true,"strokeWidth":4.5,"strokeJoin":"round"},
 "encoding":{
  "x":{"field":"w","type":"quantitative","axis":{"orient":"bottom","values":[2700,2800,2900,3100,3200,3300,3400,3500,3600,3700,3800,3900,4100,4200,4300,4400,4500,4600,4700,4800,4900,5100,5200,5300,5400,5500,5600,5700,5800,5900,6100,6200,6300,6400,6500,6600,6700,6800,6900,7100,7200,7300,7400,7500],"tickSize":-8,"labels":false,"domain":false,"title":null,"zindex":1}},
  "y":{"field":"f","type":"quantitative","axis":null},
  "color":{"datum":"Syntetic_spec","type":"nominal"}}},
{"data":{"name":"pl"},"mark":{"type":"line","clip":true,"strokeWidth":2.5,"interpolate":"monotone"},
 "encoding":{
  "x":{"field":"w","type":"quantitative","axis":{"orient":"top","values":[3000,4000,5000,6000,7000],"tickSize":-16,"labels":false,"domain":true,"title":null,"zindex":1}},
  "y":{"field":"f","type":"quantitative","axis":{"orient":"right","values":[0,1,2,3,4,5],"tickSize":-16,"labels":false,"domain":true,"title":null,"zindex":1}},
  "color":{"datum":"Power Law","type":"nominal"}}},
{"data":{"name":"gal"},"transform":[{"filter":"datum.w <= 3320"}],"mark":{"type":"line","clip":true,"strokeWidth":7,"strokeJoin":"round"},
 "encoding":{
  "x":{"field":"w","type":"quantitative","axis":{"orient":"top","values":[2700,2800,2900,3100,3200,3300,3400,3500,3600,3700,3800,3900,4100,4200,4300,4400,4500,4600,4700,4800,4900,5100,5200,5300,5400,5500,5600,5700,5800,5900,6100,6200,6300,6400,6500,6600,6700,6800,6900,7100,7200,7300,7400,7500],"tickSize":-8,"labels":false,"domain":false,"title":null,"zindex":1}},
  "y":{"field":"f","type":"quantitative","axis":null},
  "color":{"datum":"Host Galaxy","type":"nominal"}}},
{"data":{"name":"gal"},"mark":{"type":"line","clip":true,"strokeWidth":4.5,"strokeJoin":"round"},
 "encoding":{
  "x":{"field":"w","type":"quantitative","axis":null},
  "y":{"field":"f","type":"quantitative","axis":null},
  "color":{"datum":"Synt Galaxy","type":"nominal"}}},
{"data":{"name":"pl"},"mark":{"type":"line","clip":true,"strokeWidth":5.5,"opacity":0.8,"interpolate":"monotone"},
 "encoding":{
  "x":{"field":"w","type":"quantitative","axis":null},
  "y":{"field":"f","type":"quantitative","axis":null},
  "color":{"datum":"Synt Galaxy 2","type":"nominal"}}},
{"mark":{"type":"rule","color":"black","strokeWidth":2.5},
 "encoding":{"y":{"datum":0,"type":"quantitative","axis":null}}},
{"data":{"name":"el"},"mark":{"type":"line","clip":true,"strokeWidth":4.5,"opacity":0.85,"strokeJoin":"round"},
 "encoding":{
  "x":{"field":"w","type":"quantitative","axis":null},
  "y":{"field":"f","type":"quantitative","axis":null},
  "color":{"datum":"E.Lines","type":"nominal"}}}
]
}
